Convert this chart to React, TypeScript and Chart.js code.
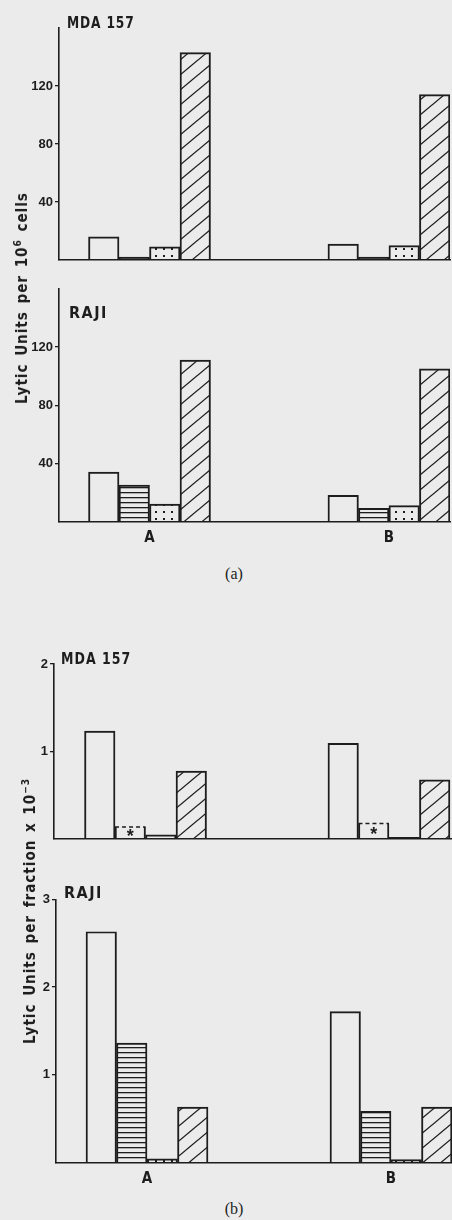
import React, { useEffect, useRef } from 'react';
import { Chart, registerables } from 'chart.js';
Chart.register(...registerables);

// ---------- data ----------
const groupLabels = ['A', 'B'];
const groupPos = [1, 2];

// (a) Lytic units per 10^6 cells
const aMdaOpen = [16, 11];
const aMdaStriped = [2, 2];
const aMdaDotted = [9, 10];
const aMdaHatched = [143, 114];
const aRajiOpen = [34, 18];
const aRajiStriped = [25, 9];
const aRajiDotted = [12, 11];
const aRajiHatched = [111, 105];
const aTicks = [40, 80, 120];
const aMax = 160;

// (b) Lytic units per fraction x 10^-3
const bMdaOpen = [1.23, 1.09];
const bMdaStarred = [0.13, 0.17];
const bMdaDotted = [0.04, 0.01];
const bMdaHatched = [0.77, 0.67];
const bRajiOpen = [2.63, 1.72];
const bRajiStriped = [1.36, 0.58];
const bRajiDotted = [0.04, 0.03];
const bRajiHatched = [0.63, 0.63];
const bMdaTicks = [1, 2];
const bMdaMax = 2;
const bRajiTicks = [1, 2, 3];
const bRajiMax = 3;

// ---------- styles ----------
const INK = '#1d1d1d';
const BG = '#ebebeb';
const NARROW = '"Liberation Sans Narrow", "DejaVu Sans Condensed", "Liberation Sans", Arial, sans-serif';
const SANS = '"Liberation Sans", Arial, sans-serif';
const SERIF = '"Liberation Serif", "DejaVu Serif", serif';

type Kind = 'open' | 'striped' | 'dotted' | 'hatched' | 'starred';
type Panel = {
  top: number; height: number; padTop: number; axisW: number; xH: number; padRight: number;
  xMin: number; xMax: number; yMax: number; yTicks: number[]; showX: boolean;
  series: { name: string; data: number[]; kind: Kind }[];
};

const panels: Panel[] = [
  { top: 0, height: 275, padTop: 28, axisW: 59, xH: 15, padRight: 2, xMin: 0.622, xMax: 2.255,
    yMax: aMax, yTicks: aTicks, showX: false,
    series: [
      { name: 'open', data: aMdaOpen, kind: 'open' },
      { name: 'striped', data: aMdaStriped, kind: 'striped' },
      { name: 'dotted', data: aMdaDotted, kind: 'dotted' },
      { name: 'hatched', data: aMdaHatched, kind: 'hatched' },
    ] },
  { top: 270, height: 290, padTop: 19, axisW: 59, xH: 38.5, padRight: 2, xMin: 0.622, xMax: 2.255,
    yMax: aMax, yTicks: aTicks, showX: true,
    series: [
      { name: 'open', data: aRajiOpen, kind: 'open' },
      { name: 'striped', data: aRajiStriped, kind: 'striped' },
      { name: 'dotted', data: aRajiDotted, kind: 'dotted' },
      { name: 'hatched', data: aRajiHatched, kind: 'hatched' },
    ] },
  { top: 640, height: 220, padTop: 24, axisW: 54, xH: 21.7, padRight: 0, xMin: 0.624, xMax: 2.259,
    yMax: bMdaMax, yTicks: bMdaTicks, showX: false,
    series: [
      { name: 'open', data: bMdaOpen, kind: 'open' },
      { name: 'starred', data: bMdaStarred, kind: 'starred' },
      { name: 'dotted', data: bMdaDotted, kind: 'dotted' },
      { name: 'hatched', data: bMdaHatched, kind: 'hatched' },
    ] },
  { top: 870, height: 330, padTop: 29.3, axisW: 56, xH: 37.7, padRight: 0, xMin: 0.627, xMax: 2.25,
    yMax: bRajiMax, yTicks: bRajiTicks, showX: true,
    series: [
      { name: 'open', data: bRajiOpen, kind: 'open' },
      { name: 'striped', data: bRajiStriped, kind: 'striped' },
      { name: 'dotted', data: bRajiDotted, kind: 'dotted' },
      { name: 'hatched', data: bRajiHatched, kind: 'hatched' },
    ] },
];

function tile(w: number, h: number, draw: (g: CanvasRenderingContext2D) => void) {
  const c = document.createElement('canvas');
  c.width = w; c.height = h;
  const g = c.getContext('2d')!;
  draw(g);
  return c;
}

function makePatterns(ctx: CanvasRenderingContext2D) {
  const stripes = ctx.createPattern(tile(8, 5, g => { g.fillStyle = INK; g.fillRect(0, 2, 8, 1.3); }), 'repeat');
  const dots = ctx.createPattern(tile(8, 7, g => { g.fillStyle = INK; g.fillRect(3, 3, 2, 2); }), 'repeat');
  const hatch = ctx.createPattern(tile(18, 15, g => {
    g.strokeStyle = INK; g.lineWidth = 1.3;
    for (const dx of [-18, 0, 18]) for (const dy of [-15, 0, 15]) {
      g.beginPath(); g.moveTo(dx, 15 + dy); g.lineTo(dx + 18, dy); g.stroke();
    }
  }), 'repeat');
  return { stripes, dots, hatch };
}

const starPlugin = {
  id: 'starredBars',
  afterDatasetsDraw(chart: any) {
    const ctx = chart.ctx;
    chart.data.datasets.forEach((ds: any, di: number) => {
      if (!ds.starred) return;
      const meta = chart.getDatasetMeta(di);
      meta.data.forEach((bar: any) => {
        const { x, y, base, width } = bar.getProps(['x', 'y', 'base', 'width'], true);
        ctx.save();
        ctx.strokeStyle = INK; ctx.lineWidth = 1.4; ctx.setLineDash([4, 3]);
        ctx.beginPath(); ctx.moveTo(x - width / 2, y); ctx.lineTo(x + width / 2, y); ctx.stroke();
        ctx.setLineDash([]);
        ctx.fillStyle = INK;
        ctx.font = 'bold 18px ' + SANS;
        ctx.textAlign = 'center'; ctx.textBaseline = 'middle';
        ctx.fillText('*', x, (y + base) / 2 + 4);
        ctx.restore();
      });
    });
  },
};

function PanelChart({ p }: { p: Panel }) {
  const ref = useRef<HTMLCanvasElement>(null);
  useEffect(() => {
    const canvas = ref.current!;
    const ctx = canvas.getContext('2d')!;
    const pat = makePatterns(ctx);
    const fillFor = (k: Kind) =>
      k === 'striped' ? pat.stripes : k === 'dotted' ? pat.dots : k === 'hatched' ? pat.hatch : 'rgba(0,0,0,0)';
    const datasets = p.series.map(s => ({
      label: s.name,
      data: groupPos.map((x, i) => ({ x, y: s.data[i] })),
      backgroundColor: fillFor(s.kind),
      borderColor: INK,
      borderWidth: s.kind === 'starred' ? { top: 0, left: 1.3, right: 1.3, bottom: 0 } : 1.3,
      borderSkipped: 'bottom',
      barThickness: 30.5,
      starred: s.kind === 'starred',
    }));
    const chart = new Chart(ctx, {
      type: 'bar',
      data: { datasets } as any,
      plugins: [starPlugin],
      options: {
        animation: false,
        responsive: false,
        maintainAspectRatio: false,
        devicePixelRatio: 1,
        layout: { padding: { top: p.padTop, right: p.padRight, left: 0, bottom: 0 } },
        plugins: { legend: { display: false }, tooltip: { enabled: false }, title: { display: false } },
        scales: {
          x: {
            type: 'linear', min: p.xMin, max: p.xMax, offset: false,
            grid: { display: false, drawTicks: false, offset: false },
            border: { display: true, color: INK, width: 1.6 },
            ticks: {
              display: p.showX, color: INK, padding: 8, autoSkip: false, maxRotation: 0,
              font: { family: NARROW, size: 15, weight: 'bold' },
              callback: (v: any) => { const i = groupPos.indexOf(Number(v)); return i >= 0 ? groupLabels[i] : ''; },
            },
            afterBuildTicks: (s: any) => { s.ticks = groupPos.map(v => ({ value: v })); },
            afterFit: (s: any) => { s.height = p.xH; },
          },
          y: {
            type: 'linear', min: 0, max: p.yMax,
            grid: { display: true, drawOnChartArea: false, drawTicks: true, tickLength: 4, color: INK, lineWidth: 1.3 },
            border: { display: true, color: INK, width: 1.6 },
            ticks: {
              color: INK, padding: 2,
              font: { family: SANS, size: 13, weight: 'bold' },
              callback: (v: any) => String(v),
            },
            afterBuildTicks: (s: any) => { s.ticks = p.yTicks.map(v => ({ value: v })); },
            afterFit: (s: any) => { s.width = p.axisW; },
          },
        },
      } as any,
    });
    return () => chart.destroy();
  }, [p]);
  return (
    <canvas ref={ref} width={452} height={p.height}
      style={{ position: 'absolute', left: 0, top: p.top, width: 452, height: p.height, display: 'block' }} />
  );
}

const titleStyle = (left: number, top: number, spacing: number, squeeze: number): React.CSSProperties => ({
  position: 'absolute', left, top, fontFamily: NARROW, fontWeight: 'bold', fontSize: 16,
  lineHeight: '16px', letterSpacing: spacing + 'px', color: INK, whiteSpace: 'nowrap',
  transform: `scaleX(${squeeze})`, transformOrigin: 'left center',
});

const yTitleStyle = (cx: number, cy: number): React.CSSProperties => ({
  position: 'absolute', left: cx, top: cy, transform: 'translate(-50%, -50%) rotate(-90deg)',
  fontFamily: NARROW, fontWeight: 'bold', fontSize: 15, lineHeight: '15px', letterSpacing: '1px',
  wordSpacing: '2px', color: INK, whiteSpace: 'nowrap',
});

export default function App() {
  return (
    <div style={{ position: 'absolute', left: 0, top: 0, width: 452, height: 1220, background: BG, overflow: 'hidden' }}>
      {panels.map((p, i) => <PanelChart key={i} p={p} />)}
      <div style={titleStyle(67, 15, 1, 0.85)}>MDA 157</div>
      <div style={titleStyle(69, 305, 1.5, 1)}>RAJI</div>
      <div style={titleStyle(61, 650.5, 1.2, 0.87)}>MDA 157</div>
      <div style={titleStyle(64, 885, 1.5, 1)}>RAJI</div>
      <div style={yTitleStyle(20, 298)}>Lytic Units per 10<sup style={{ fontSize: 10 }}>6</sup> cells</div>
      <div style={yTitleStyle(28, 911)}>Lytic Units per fraction x 10<sup style={{ fontSize: 10 }}>−3</sup></div>
      <div style={{ position: 'absolute', left: 234, top: 566, transform: 'translateX(-50%)', fontFamily: SERIF, fontSize: 16, lineHeight: '16px', color: INK }}>(a)</div>
      <div style={{ position: 'absolute', left: 234, top: 1201, transform: 'translateX(-50%)', fontFamily: SERIF, fontSize: 16, lineHeight: '16px', color: INK }}>(b)</div>
    </div>
  );
}
